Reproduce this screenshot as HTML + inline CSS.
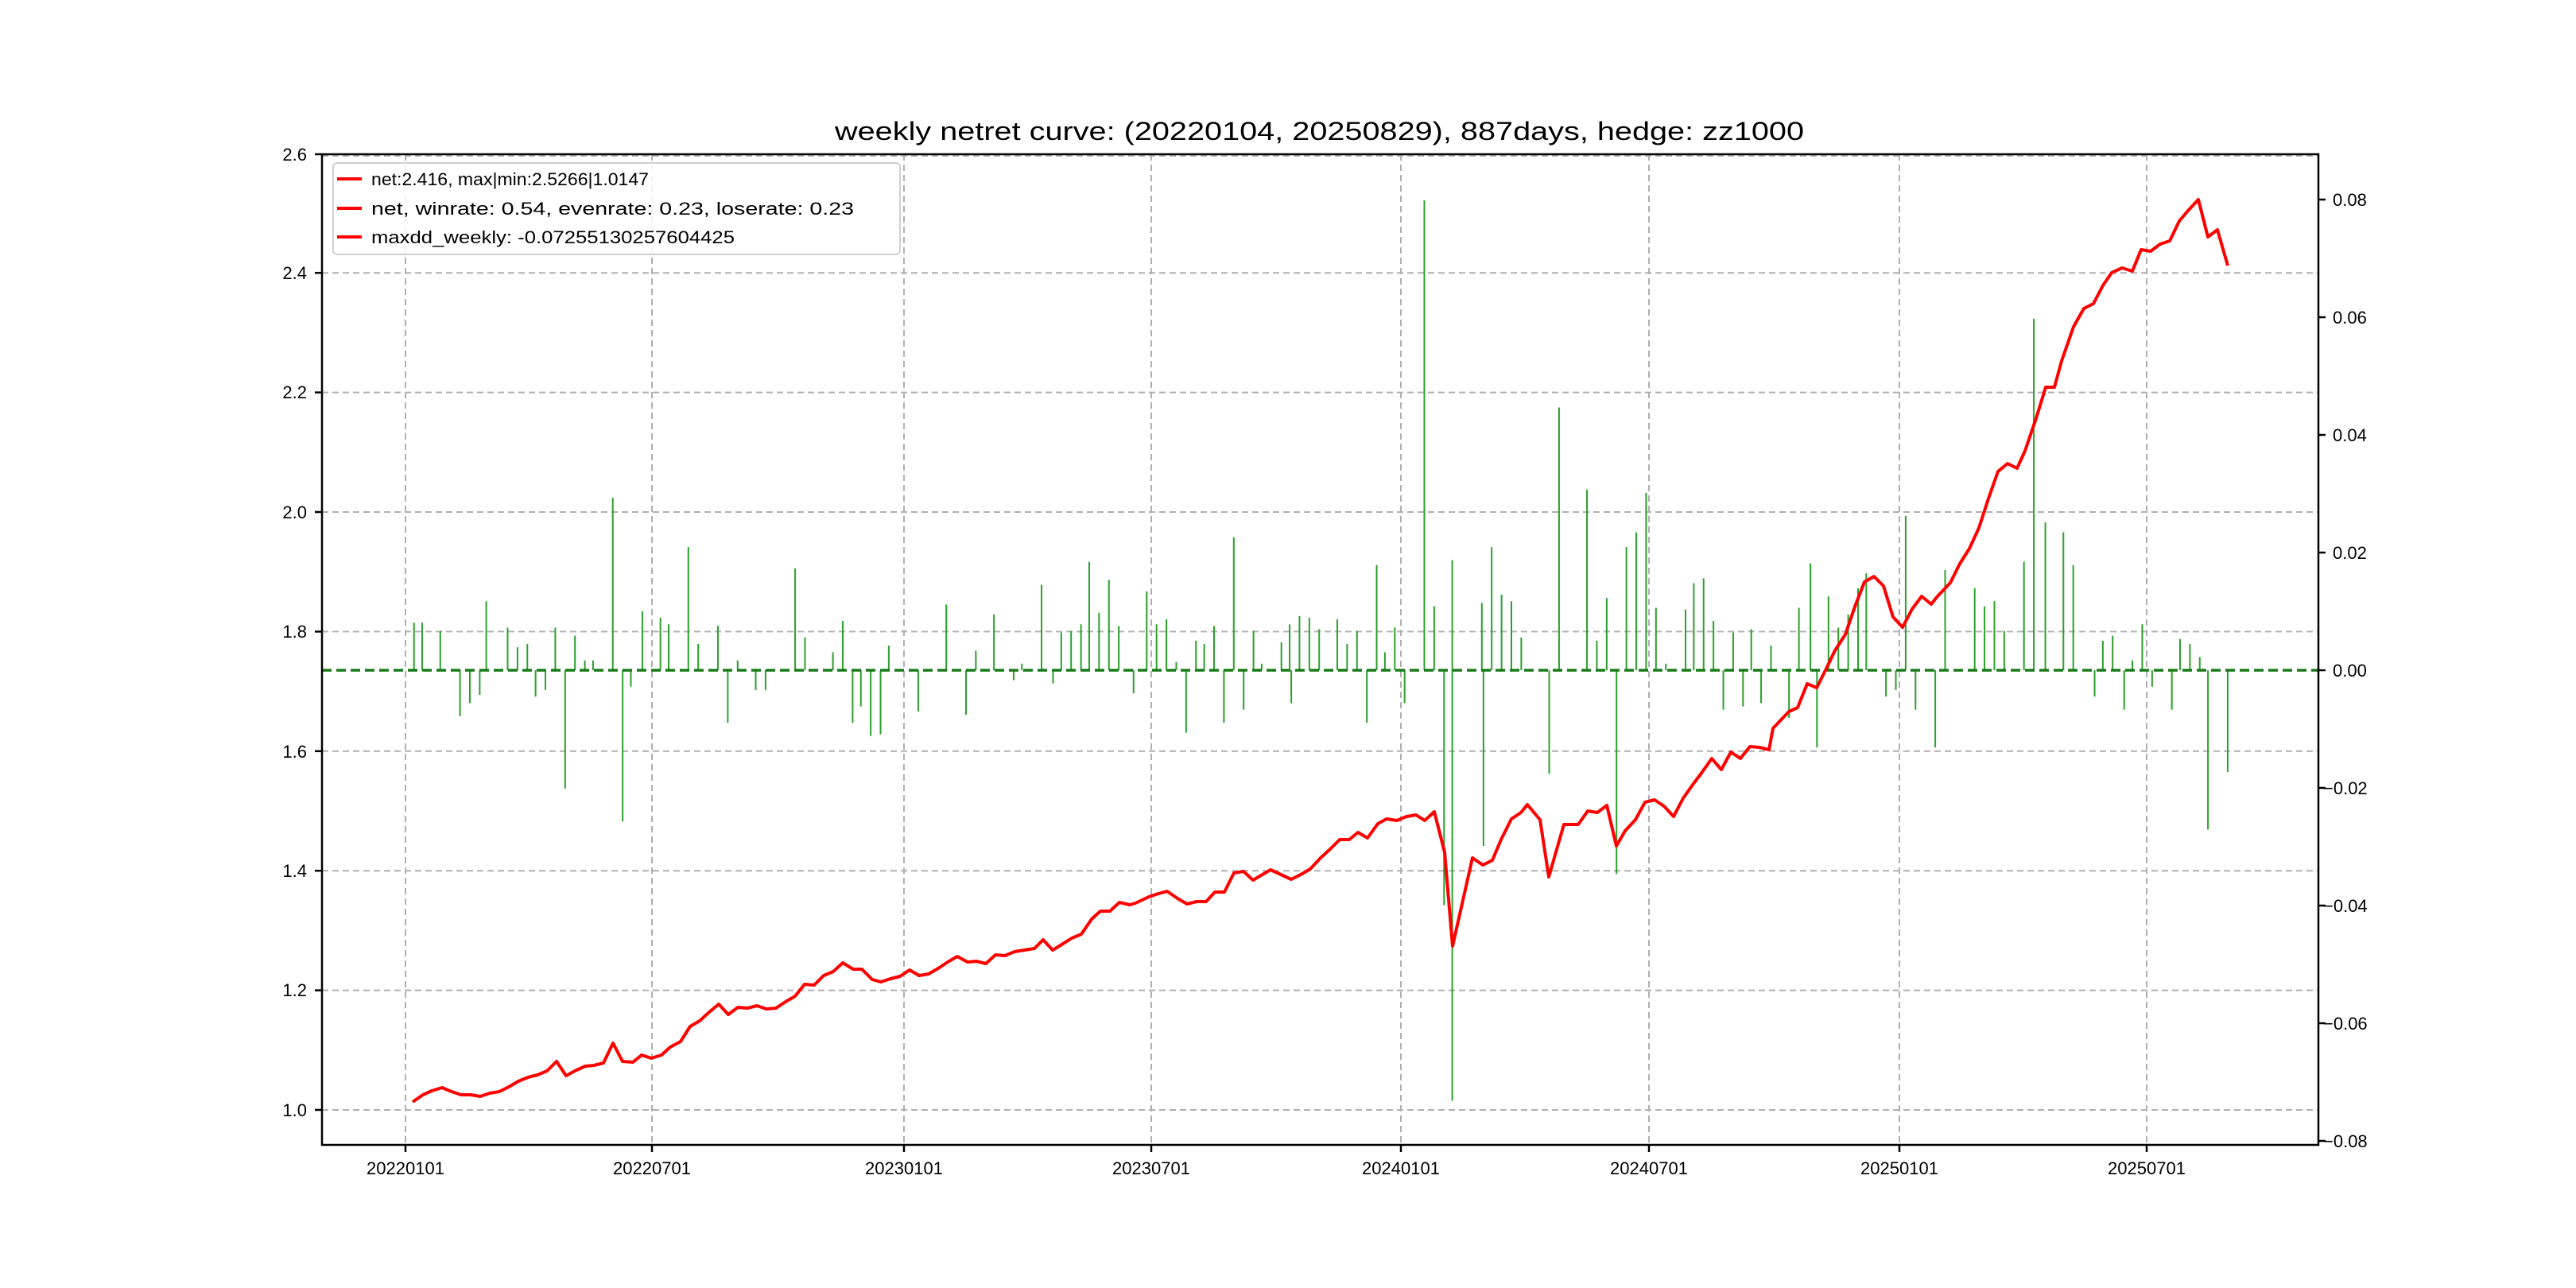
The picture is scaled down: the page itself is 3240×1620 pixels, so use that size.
<!DOCTYPE html>
<html><head><meta charset="utf-8"><style>
html,body{margin:0;padding:0;background:#fff;}
svg{display:block;}
text{font-family:"Liberation Sans","Noto Sans CJK SC",sans-serif;fill:#000;}
</style></head><body>
<svg width="3240" height="1620" viewBox="0 0 3240 1620" xmlns="http://www.w3.org/2000/svg">
<rect width="3240" height="1620" fill="#fff"/>
<g stroke="#b0b0b0" stroke-width="2" stroke-dasharray="8,5" fill="none">
<line x1="405" x2="2916" y1="1396" y2="1396"/>
<line x1="405" x2="2916" y1="1245.6" y2="1245.6"/>
<line x1="405" x2="2916" y1="1095.2" y2="1095.2"/>
<line x1="405" x2="2916" y1="944.8" y2="944.8"/>
<line x1="405" x2="2916" y1="794.4" y2="794.4"/>
<line x1="405" x2="2916" y1="644" y2="644"/>
<line x1="405" x2="2916" y1="493.6" y2="493.6"/>
<line x1="405" x2="2916" y1="343.2" y2="343.2"/>
<line x1="405" x2="2916" y1="196" y2="196"/>
<line x1="510" x2="510" y1="194" y2="1440"/>
<line x1="820" x2="820" y1="194" y2="1440"/>
<line x1="1137" x2="1137" y1="194" y2="1440"/>
<line x1="1448" x2="1448" y1="194" y2="1440"/>
<line x1="1762" x2="1762" y1="194" y2="1440"/>
<line x1="2074" x2="2074" y1="194" y2="1440"/>
<line x1="2389" x2="2389" y1="194" y2="1440"/>
<line x1="2700" x2="2700" y1="194" y2="1440"/>
</g>
<g transform="scale(2.0663)">
<path vector-effect="non-scaling-stroke" stroke="#2ca02c" stroke-width="2" fill="none" d="
M252 408V379M257 408V379M268 408V384M296 408V366M309 408V382M315 408V394M321 408V392M338 408V382M350 408V387M356 408V402M361 408V402M373 408V303M391 408V372M402 408V376M407 408V380M419 408V333M425 408V392M437 408V381M449 408V402M484 408V346M490 408V388M507 408V397M513 408V378M541 408V393M576 408V368M594 408V396M605 408V374M622 408V404M634 408V356M646 408V385M652 408V384M658 408V380M663 408V342M669 408V373M675 408V353M681 408V381M698 408V360M704 408V380M710 408V377M716 408V403M728 408V390M733 408V392M739 408V381M751 408V327M763 408V384M768 408V404M780 408V391M785 408V380M791 408V375M797 408V376M803 408V383M814 408V377M820 408V392M826 408V384M838 408V344M843 408V397M849 408V382M867 408V122M873 408V369M884 408V341M902 408V367M908 408V333M914 408V362M920 408V366M926 408V388M949 408V248M966 408V298M972 408V390M978 408V364M990 408V333M996 408V324M1002 408V300M1008 408V370M1014 408V404M1026 408V371M1031 408V355M1037 408V352M1043 408V378M1055 408V385M1066 408V383M1078 408V393M1095 408V370M1102 408V343M1113 408V363M1119 408V382M1125 408V374M1131 408V358M1136 408V349M1160 408V314M1184 408V347M1202 408V358M1208 408V369M1214 408V366M1220 408V384M1232 408V342M1238 408V194M1245 408V318M1256 408V324M1262 408V344M1280 408V390M1286 408V387M1298 408V402M1304 408V380M1327 408V389M1333 408V392M1339 408V400
M280 408V436M286 408V428M292 408V423M326 408V424M332 408V420M344 408V480M379 408V500M384 408V418M443 408V440M460 408V420M466 408V420M519 408V440M524 408V430M530 408V448M536 408V447M559 408V433M588 408V435M617 408V414M641 408V416M690 408V422M722 408V446M745 408V440M757 408V432M786 408V428M832 408V440M855 408V428M879 408V551M884 408V670M903 408V515M943 408V471M984 408V532M1049 408V432M1061 408V430M1072 408V428M1089 408V437M1106 408V455M1148 408V424M1154 408V420M1166 408V432M1178 408V455M1275 408V424M1293 408V432M1310 408V418M1322 408V432M1344 408V505M1356 408V470"/>
</g>
<line x1="405" x2="2916" y1="843" y2="843" stroke="#1a7a1a" stroke-width="3.5" stroke-dasharray="12,6"/>
<polyline fill="none" stroke="#ff0000" stroke-width="4" stroke-linejoin="round" points="519,1386 532,1377 543,1372 556,1368 568,1373 580,1377 592,1377 604,1379 616,1375 628,1373 640,1367 652,1360 664,1355 676,1352 688,1347 700,1335 712,1353 723,1347 736,1341 747,1340 759,1337 771,1312 783,1335 796,1336 807,1327 819,1331 832,1327 843,1317 856,1310 868,1291 880,1284 892,1273 904,1263 916,1276 928,1267 940,1268 952,1265 964,1269 976,1268 988,1260 1000,1253 1012,1238 1024,1239 1036,1227 1048,1222 1060,1211 1073,1219 1084,1219 1097,1232 1108,1235 1120,1231 1132,1228 1144,1220 1156,1227 1168,1225 1180,1218 1192,1210 1204,1203 1217,1210 1228,1209 1240,1212 1252,1201 1264,1202 1276,1197 1288,1195 1301,1193 1312,1182 1324,1195 1337,1187 1348,1180 1360,1175 1373,1156 1384,1146 1396,1146 1408,1135 1421,1138 1428,1136 1445,1128 1457,1124 1468,1121 1481,1130 1493,1137 1505,1134 1517,1134 1528,1122 1540,1122 1552,1098 1564,1096 1576,1107 1598,1094 1624,1106 1636,1100 1648,1093 1661,1079 1673,1068 1685,1056 1697,1056 1708,1047 1720,1054 1733,1036 1744,1030 1757,1032 1769,1027 1781,1025 1792,1032 1804,1021 1817,1072 1827,1190 1852,1079 1865,1088 1877,1082 1888,1056 1901,1030 1913,1022 1921,1012 1937,1031 1948,1103 1967,1037 1985,1037 1997,1020 2009,1022 2021,1013 2033,1064 2044,1045 2057,1031 2069,1009 2081,1006 2093,1014 2105,1027 2117,1004 2129,987 2141,971 2153,954 2165,968 2177,946 2189,954 2201,939 2213,940 2225,943 2230,916 2250,895 2261,890 2273,860 2285,865 2297,841 2308,818 2321,798 2333,763 2345,732 2357,725 2369,737 2381,776 2393,789 2405,766 2417,750 2429,760 2436,751 2453,733 2465,709 2477,690 2489,664 2501,627 2513,593 2525,583 2537,589 2547,567 2561,526 2573,487 2584,487 2593,454 2608,411 2621,388 2633,382 2645,359 2656,343 2669,337 2682,341 2693,314 2705,316 2717,307 2729,303 2741,278 2752,265 2765,251 2777,298 2789,289 2802,334"/>
<rect x="405" y="194" width="2511" height="1246" fill="none" stroke="#000" stroke-width="2.5"/>
<g stroke="#000" stroke-width="2.5">
<line x1="396" x2="405" y1="1396" y2="1396"/><line x1="396" x2="405" y1="1245.6" y2="1245.6"/><line x1="396" x2="405" y1="1095.2" y2="1095.2"/><line x1="396" x2="405" y1="944.8" y2="944.8"/><line x1="396" x2="405" y1="794.4" y2="794.4"/><line x1="396" x2="405" y1="644" y2="644"/><line x1="396" x2="405" y1="493.6" y2="493.6"/><line x1="396" x2="405" y1="343.2" y2="343.2"/><line x1="396" x2="405" y1="194" y2="194"/>
<line x1="2916" x2="2925" y1="251" y2="251"/><line x1="2916" x2="2925" y1="399" y2="399"/><line x1="2916" x2="2925" y1="547" y2="547"/><line x1="2916" x2="2925" y1="695" y2="695"/><line x1="2916" x2="2925" y1="843" y2="843"/><line x1="2916" x2="2925" y1="991" y2="991"/><line x1="2916" x2="2925" y1="1139" y2="1139"/><line x1="2916" x2="2925" y1="1287" y2="1287"/><line x1="2916" x2="2925" y1="1435" y2="1435"/>
<line x1="510" x2="510" y1="1440" y2="1449"/><line x1="820" x2="820" y1="1440" y2="1449"/><line x1="1137" x2="1137" y1="1440" y2="1449"/><line x1="1448" x2="1448" y1="1440" y2="1449"/><line x1="1762" x2="1762" y1="1440" y2="1449"/><line x1="2074" x2="2074" y1="1440" y2="1449"/><line x1="2389" x2="2389" y1="1440" y2="1449"/><line x1="2700" x2="2700" y1="1440" y2="1449"/>
</g>
<g font-size="22" text-anchor="end">
<text x="386" y="1404">1.0</text><text x="386" y="1253">1.2</text><text x="386" y="1103">1.4</text><text x="386" y="953">1.6</text><text x="386" y="802">1.8</text><text x="386" y="652">2.0</text><text x="386" y="501">2.2</text><text x="386" y="351">2.4</text><text x="386" y="202">2.6</text>
</g>
<g font-size="22">
<text x="2934" y="259">0.08</text><text x="2934" y="407">0.06</text><text x="2934" y="555">0.04</text><text x="2934" y="703">0.02</text><text x="2934" y="851">0.00</text><text x="2922" y="999">−0.02</text><text x="2922" y="1147">−0.04</text><text x="2922" y="1295">−0.06</text><text x="2922" y="1443">−0.08</text>
</g>
<g font-size="22" text-anchor="middle">
<text x="510" y="1477">20220101</text><text x="820" y="1477">20220701</text><text x="1137" y="1477">20230101</text><text x="1448" y="1477">20230701</text><text x="1762" y="1477">20240101</text><text x="2074" y="1477">20240701</text><text x="2389" y="1477">20250101</text><text x="2700" y="1477">20250701</text>
</g>
<text x="1050" y="176" font-size="32" textLength="1219" lengthAdjust="spacingAndGlyphs">weekly netret curve: (20220104, 20250829), 887days, hedge: zz1000</text>
<rect x="419" y="205" width="713" height="115" rx="5" fill="#fff" fill-opacity="0.85" stroke="#d0d0d0" stroke-width="2"/>
<g stroke="#ff0000" stroke-width="4"><line x1="424" x2="455" y1="225" y2="225"/><line x1="424" x2="455" y1="262" y2="262"/><line x1="424" x2="455" y1="298" y2="298"/></g>
<g font-size="22">
<text x="467" y="233" textLength="349" lengthAdjust="spacingAndGlyphs">net:2.416, max|min:2.5266|1.0147</text>
<text x="467" y="270" textLength="607" lengthAdjust="spacingAndGlyphs">net, winrate: 0.54, evenrate: 0.23, loserate: 0.23</text>
<text x="467" y="306" textLength="457" lengthAdjust="spacingAndGlyphs">maxdd_weekly: -0.07255130257604425</text>
</g>
</svg>
</body></html>
